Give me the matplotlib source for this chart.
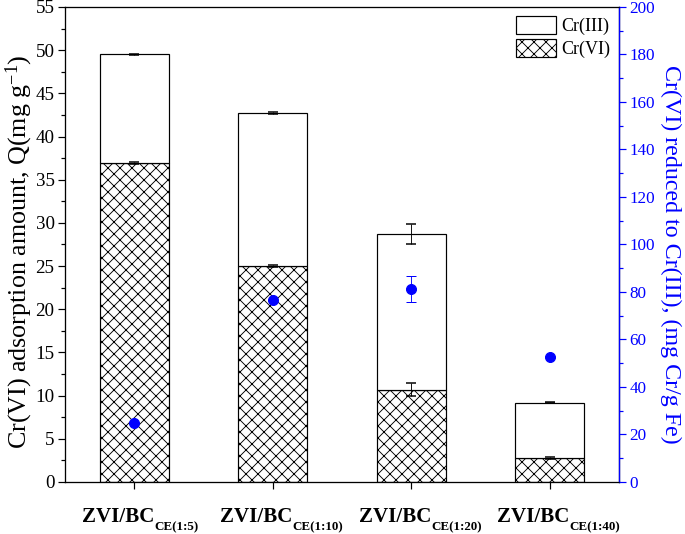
import numpy as np
import matplotlib
matplotlib.use('Agg')
import matplotlib.pyplot as plt
from matplotlib.patches import Patch

plt.rcParams['font.family'] = ['Liberation Serif', 'DejaVu Serif']
plt.rcParams['mathtext.fontset'] = 'custom'
plt.rcParams['mathtext.rm'] = 'Liberation Serif'
plt.rcParams['mathtext.it'] = 'Liberation Serif:italic'
plt.rcParams['mathtext.bf'] = 'Liberation Serif:bold'
plt.rcParams['hatch.linewidth'] = 0.9

# data
samples = ['CE(1:5)', 'CE(1:10)', 'CE(1:20)', 'CE(1:40)']
total_q = [49.5, 42.7, 28.7, 9.2]          # Cr(III) + Cr(VI)
total_err = [0.1, 0.1, 1.2, 0.1]
cr6_q = [36.9, 25.0, 10.7, 2.8]
cr6_err = [0.1, 0.1, 0.8, 0.1]
reduced = [24.8, 76.8, 81.4, 52.6]         # mg Cr / g Fe
reduced_err = [0.0, 0.0, 5.5, 0.0]

blue = '#0000ff'
x = np.arange(1, len(samples) + 1)
cr3_q = [t - c for t, c in zip(total_q, cr6_q)]

fig = plt.figure(figsize=(685 / 72, 534 / 72), dpi=72)
ax = fig.add_axes([0.095, 0.0974, 0.8086, 0.8895])

ax.bar(x, cr6_q, width=0.5, color='white', edgecolor='black', hatch='xx', linewidth=1.2, zorder=2)
ax.bar(x, cr3_q, width=0.5, bottom=cr6_q, color='white', edgecolor='black', linewidth=1.2, zorder=2)
ax.errorbar(x, total_q, yerr=total_err, fmt='none', ecolor='black', elinewidth=0.9, capsize=5, capthick=1.5, zorder=3)
ax.errorbar(x, cr6_q, yerr=cr6_err, fmt='none', ecolor='black', elinewidth=0.9, capsize=5, capthick=1.5, zorder=3)

ax.set_xlim(0.5, 4.5)
ax.set_ylim(0, 55)
ax.set_yticks(np.arange(0, 56, 5))
ax.set_yticks(np.arange(0, 55, 2.5), minor=True)
ax.set_xticks(x)
ax.set_xticklabels([])
ax.tick_params(axis='both', which='major', direction='out', length=7, width=1.2, labelsize=19)
ax.tick_params(axis='y', which='minor', direction='out', length=4, width=1.2)
ax.set_ylabel(r'Cr(VI) adsorption amount, Q(mg g$^{-1}$)', fontsize=26)
ax.yaxis.set_label_coords(-0.054, 0.485)
for sp in ax.spines.values():
    sp.set_linewidth(1.3)

# category labels: "ZVI/BC" with a small bold subscript
for xi, sub in zip(x, samples):
    ax.annotate('ZVI/BC', xy=(xi, 0), xycoords=ax.get_xaxis_transform(),
                xytext=(20, -40), textcoords='offset points',
                ha='right', va='baseline', fontsize=21, fontweight='bold')
    ax.annotate(sub, xy=(xi, 0), xycoords=ax.get_xaxis_transform(),
                xytext=(20, -48), textcoords='offset points',
                ha='left', va='baseline', fontsize=13, fontweight='bold')

legend_handles = [Patch(facecolor='white', edgecolor='black', linewidth=1.2, label='Cr(III)'),
                  Patch(facecolor='white', edgecolor='black', linewidth=1.2, hatch='xx', label='Cr(VI)')]
ax.legend(handles=legend_handles, loc='upper right', frameon=False, fontsize=18,
          handlelength=2.2, handleheight=1.2, labelspacing=0.2, handletextpad=0.3,
          borderaxespad=0.2, borderpad=0.3)

ax2 = ax.twinx()
ax2.errorbar(x, reduced, yerr=reduced_err, fmt='o', color=blue, markersize=10,
             ecolor=blue, elinewidth=0.9, capsize=5, zorder=4)
ax2.set_ylim(0, 200)
ax2.set_yticks(np.arange(0, 201, 20))
ax2.set_yticks(np.arange(0, 200, 10), minor=True)
ax2.tick_params(axis='y', which='major', direction='out', length=7, width=1.2, colors=blue, labelsize=17)
ax2.tick_params(axis='y', which='minor', direction='out', length=4, width=1.2, colors=blue)
ax2.spines['right'].set_color(blue)
ax2.spines['right'].set_linewidth(1.3)
ax2.set_ylabel('Cr(VI) reduced to Cr(III), (mg Cr/g Fe)', color=blue, fontsize=24,
               rotation=270)
ax2.yaxis.set_label_coords(1.113, 0.48)

fig.savefig('out.png', dpi=72)
